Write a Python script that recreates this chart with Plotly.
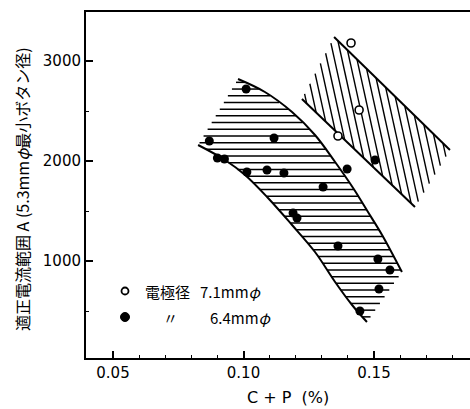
import plotly.graph_objects as go

# ---------------- data ----------------
# filled points: electrode diameter 6.4 mm
filled_x = [0.1010, 0.0869, 0.0900, 0.0927, 0.1117, 0.1013, 0.1090, 0.1155, 0.1397,
            0.1305, 0.1190, 0.1205, 0.1362, 0.1504, 0.1515, 0.1561, 0.1519, 0.1446]
filled_y = [2720, 2200, 2030, 2020, 2230, 1890, 1910, 1880, 1920,
            1740, 1480, 1430, 1150, 2010, 1020, 910, 720, 500]
# open points: electrode diameter 7.1 mm
open_x = [0.1412, 0.1443, 0.1362, 0.1873]
open_y = [3180, 2510, 2250, 1680]

# left band (horizontal hatch) boundaries
upper_x = [0.0979, 0.1082, 0.1186, 0.1274, 0.1351, 0.1420, 0.1477, 0.1531, 0.1607]
upper_y = [2820, 2690, 2490, 2260, 1990, 1730, 1490, 1260, 890]
lower_x = [0.0826, 0.0929, 0.1006, 0.1094, 0.1186, 0.1274, 0.1351, 0.1416, 0.1473]
lower_y = [2160, 2010, 1860, 1630, 1360, 1090, 790, 560, 390]

# right band (slanted hatch) corners: top, right, bottom, left
band2_x = [0.1347, 0.1791, 0.1657, 0.1224]
band2_y = [3240, 2110, 1540, 2620]

x_ticks = [0.05, 0.10, 0.15]
x_ticktext = ["0.05", "0.10", "0.15"]
y_ticks = [1000, 2000, 3000]
y_ticktext = ["1000", "2000", "3000"]

# ---------------- layout constants ----------------
W, H = 470, 409
ML, MR, MT, MB = 86, 0, 12, 51
PW, PH = W - ML - MR, H - MT - MB
X0, X1 = 0.039655, 0.186782
Y0, Y1 = 30, 3490


def to_px(x, y):
    return ML + (x - X0) / (X1 - X0) * PW, MT + (Y1 - y) / (Y1 - Y0) * PH


def to_data(px, py):
    return X0 + (px - ML) / PW * (X1 - X0), Y1 - (py - MT) / PH * (Y1 - Y0)


def hatch_lines(xs, ys, slope=0.22, step=7.5):
    """Hatch lines (pixel direction (slope,1)) clipped to a polygon (even-odd pairing)."""
    pts = [to_px(a, b) for a, b in zip(xs, ys)]
    nx, ny = 1.0, -slope
    cs = [nx * p[0] + ny * p[1] for p in pts]
    out_x, out_y = [], []
    c = min(cs) + step / 2
    while c < max(cs):
        hits = []
        for i in range(len(pts)):
            A, B = pts[i], pts[(i + 1) % len(pts)]
            fa = nx * A[0] + ny * A[1] - c
            fb = nx * B[0] + ny * B[1] - c
            if (fa < 0) != (fb < 0):
                t = fa / (fa - fb)
                hits.append((A[0] + t * (B[0] - A[0]), A[1] + t * (B[1] - A[1])))
        hits.sort(key=lambda p: (p[1], p[0]))
        for k in range(0, len(hits) - 1, 2):
            for p in (hits[k], hits[k + 1]):
                dx, dy = to_data(*p)
                out_x.append(dx)
                out_y.append(dy)
            out_x.append(None)
            out_y.append(None)
        c += step
    return out_x, out_y


def hatch_horizontal(xs, ys, step=6.7):
    """Horizontal hatch lines clipped to a polygon (even-odd pairing)."""
    pts = [to_px(a, b) for a, b in zip(xs, ys)]
    ymin = min(p[1] for p in pts)
    ymax = max(p[1] for p in pts)
    out_x, out_y = [], []
    yy = ymin + step / 2
    while yy < ymax:
        hits = []
        for i in range(len(pts)):
            A, B = pts[i], pts[(i + 1) % len(pts)]
            if (A[1] < yy) != (B[1] < yy):
                t = (yy - A[1]) / (B[1] - A[1])
                hits.append(A[0] + t * (B[0] - A[0]))
        hits.sort()
        for k in range(0, len(hits) - 1, 2):
            for hxv in (hits[k], hits[k + 1]):
                dx, dy = to_data(hxv, yy)
                out_x.append(dx)
                out_y.append(dy)
            out_x.append(None)
            out_y.append(None)
        yy += step
    return out_x, out_y


def ppx(px):
    return (px - ML) / PW


def ppy(py):
    return (MT + PH - py) / PH


fig = go.Figure()

# left band horizontal hatch
lx, ly = hatch_horizontal(upper_x + lower_x[::-1], upper_y + lower_y[::-1])
fig.add_trace(go.Scatter(x=lx, y=ly, mode="lines", line=dict(color="black", width=1.5),
                         hoverinfo="skip", showlegend=False))
for bx, by in ((upper_x, upper_y), (lower_x, lower_y)):
    fig.add_trace(go.Scatter(x=bx, y=by, mode="lines",
                             line=dict(color="black", width=2, shape="spline"),
                             hoverinfo="skip", showlegend=False))

# right band slanted hatch
hx, hy = hatch_lines(band2_x, band2_y)
fig.add_trace(go.Scatter(x=hx, y=hy, mode="lines", line=dict(color="black", width=1.4),
                         hoverinfo="skip", showlegend=False))
fig.add_trace(go.Scatter(x=[band2_x[0], band2_x[1]], y=[band2_y[0], band2_y[1]], mode="lines",
                         line=dict(color="black", width=2), showlegend=False, hoverinfo="skip"))
fig.add_trace(go.Scatter(x=[band2_x[3], band2_x[2]], y=[band2_y[3], band2_y[2]], mode="lines",
                         line=dict(color="black", width=2), showlegend=False, hoverinfo="skip"))

# points
fig.add_trace(go.Scatter(x=filled_x, y=filled_y, mode="markers",
                         marker=dict(size=9, color="black"), showlegend=False, cliponaxis=False))
fig.add_trace(go.Scatter(x=open_x, y=open_y, mode="markers",
                         marker=dict(size=8, color="white", line=dict(color="black", width=1.6)),
                         showlegend=False, cliponaxis=False))

# legend (shapes + text)
shapes = [
    dict(type="circle", xref="paper", yref="paper", xsizemode="pixel", ysizemode="pixel",
         xanchor=ppx(125), yanchor=ppy(291), x0=-3.5, x1=3.5, y0=-3.5, y1=3.5,
         line=dict(color="black", width=1.8), fillcolor="white"),
    dict(type="circle", xref="paper", yref="paper", xsizemode="pixel", ysizemode="pixel",
         xanchor=ppx(125), yanchor=ppy(317), x0=-4.5, x1=4.5, y0=-4.5, y1=4.5,
         line=dict(color="black", width=1), fillcolor="black"),
]
lf = dict(family="Noto Sans CJK JP", size=15, color="black")
annotations = [
    dict(text="電極径", x=ppx(143), y=ppy(291), xanchor="left", yanchor="middle"),
    dict(text="7.1mm<i>φ</i>", x=ppx(198), y=ppy(291), xanchor="left", yanchor="middle"),
    dict(text="〃", x=ppx(170), y=ppy(317), xanchor="center", yanchor="middle"),
    dict(text="6.4mm<i>φ</i>", x=ppx(208), y=ppy(317), xanchor="left", yanchor="middle"),
    dict(text="C + P  (%)", x=ppx(288), y=ppy(397), xanchor="center", yanchor="middle",
         font=dict(family="DejaVu Sans", size=16, color="black")),
    dict(text="適正電流範囲 A (5.3mm<i>φ</i>最小ボタン径)", x=ppx(22), y=ppy(189),
         xanchor="center", yanchor="middle", textangle=-90,
         font=dict(family="Noto Sans CJK JP", size=16, color="black")),
]
for a in annotations:
    a.update(xref="paper", yref="paper", showarrow=False)
    a.setdefault("font", lf)

tick_font = dict(family="DejaVu Sans", size=15, color="black")
fig.update_layout(
    width=W, height=H, margin=dict(l=ML, r=MR, t=MT, b=MB),
    paper_bgcolor="white", plot_bgcolor="white",
    shapes=shapes, annotations=annotations, showlegend=False,
    xaxis=dict(range=[X0, X1], tickvals=x_ticks, ticktext=x_ticktext, ticks="inside",
               ticklen=7, tickwidth=1.5, tickcolor="black", showgrid=False, zeroline=False,
               showline=True, linecolor="black", linewidth=2, mirror=True,
               tickfont=tick_font,
               minor=dict(dtick=0.01, tick0=0.05, ticks="inside", ticklen=3, tickwidth=1.2,
                          tickcolor="black", showgrid=False)),
    yaxis=dict(range=[Y0, Y1], tickvals=y_ticks, ticktext=y_ticktext, ticks="inside",
               ticklen=7, tickwidth=1.5, tickcolor="black", showgrid=False, zeroline=False,
               showline=True, linecolor="black", linewidth=2, mirror=False,
               tickfont=tick_font,
               minor=dict(dtick=500, tick0=0, ticks="inside", ticklen=3, tickwidth=1.2,
                          tickcolor="black", showgrid=False)),
)

fig.write_html("out.html")
